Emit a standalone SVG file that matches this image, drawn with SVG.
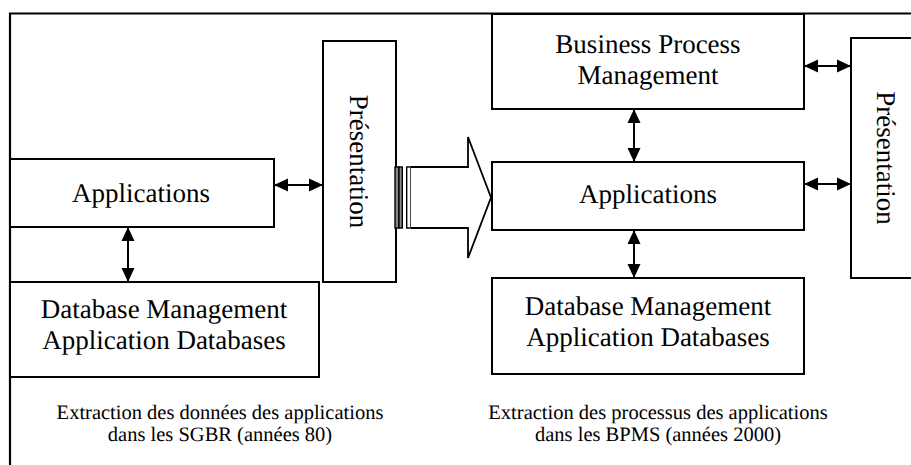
<svg xmlns="http://www.w3.org/2000/svg" width="911" height="465" viewBox="0 0 911 465">
  <defs>
    <marker id="head" viewBox="0 0 14 14" refX="13" refY="7" markerWidth="14" markerHeight="14" markerUnits="userSpaceOnUse" orient="auto-start-reverse">
      <path d="M0,0.5 L14,7 L0,13.5 z" fill="#000"/>
    </marker>
    <style>
      .box { fill: #fff; stroke: #000; stroke-width: 2; }
      .frame { fill: none; stroke: #000; stroke-width: 2.2; }
      .lbl { font-family: "Liberation Serif", "Times New Roman", serif; font-size: 27px; fill: #000; text-anchor: middle; text-rendering: geometricPrecision; }
      .cap { font-family: "Liberation Serif", "Times New Roman", serif; font-size: 20.5px; fill: #000; text-anchor: middle; text-rendering: geometricPrecision; }
      .link { stroke: #000; stroke-width: 2; fill: none; marker-start: url(#head); marker-end: url(#head); }
      .bar { stroke: #000; stroke-width: 1.4; }
    </style>
  </defs>
  <rect width="911" height="465" fill="#fff"/>

  <!-- outer frame: top and left edges -->
  <path class="frame" d="M10,465 V13.5 H911"/>

  <!-- left side: data extraction -->
  <g id="app-left">
    <rect class="box" x="10" y="159" width="264" height="68"/>
    <text class="lbl" x="141" y="202">Applications</text>
  </g>
  <g id="db-left">
    <rect class="box" x="10" y="282" width="309" height="95"/>
    <text class="lbl" x="164" y="318">Database Management</text>
    <text class="lbl" x="164" y="349">Application Databases</text>
  </g>
  <g id="pres-left">
    <rect class="box" x="323" y="41" width="73" height="241"/>
    <text class="lbl" transform="translate(350,161.5) rotate(90)" x="0" y="0">Présentation</text>
  </g>

  <!-- transition arrow with striped tail -->
  <g id="transition">
    <rect class="bar" x="395" y="167" width="4" height="61" fill="#888"/>
    <rect class="bar" x="399" y="167" width="3.3" height="61" fill="#888"/>
    <rect class="bar" x="406.7" y="167" width="4" height="61" fill="#fff"/>
    <path d="M410.7,167 H468 V137 L491,197.5 L468,258 V228 H410.7" fill="#fff" stroke="#000" stroke-width="1.8"/>
  </g>

  <!-- right side: process extraction -->
  <g id="bpm">
    <rect class="box" x="492" y="14" width="312" height="95"/>
    <text class="lbl" x="648" y="53">Business Process</text>
    <text class="lbl" x="648" y="84">Management</text>
  </g>
  <g id="app-right">
    <rect class="box" x="492" y="162" width="312" height="68"/>
    <text class="lbl" x="648" y="203">Applications</text>
  </g>
  <g id="db-right">
    <rect class="box" x="492" y="278" width="312" height="96"/>
    <text class="lbl" x="648" y="315">Database Management</text>
    <text class="lbl" x="648" y="346">Application Databases</text>
  </g>
  <g id="pres-right">
    <rect class="box" x="851" y="38" width="70" height="240"/>
    <text class="lbl" transform="translate(877,158) rotate(90)" x="0" y="0">Présentation</text>
  </g>

  <!-- captions -->
  <text class="cap" x="220" y="419">Extraction des données des applications</text>
  <text class="cap" x="220" y="441">dans les SGBR (années 80)</text>
  <text class="cap" x="658" y="419">Extraction des processus des applications</text>
  <text class="cap" x="658" y="441">dans les BPMS (années 2000)</text>

  <!-- connectors -->
  <g id="connectors">
    <line class="link" x1="128" y1="228" x2="128" y2="281"/>
    <line class="link" x1="275" y1="185" x2="322" y2="185"/>
    <line class="link" x1="634" y1="110" x2="634" y2="161"/>
    <line class="link" x1="634" y1="231" x2="634" y2="277"/>
    <line class="link" x1="805" y1="66" x2="850" y2="66"/>
    <line class="link" x1="805" y1="184" x2="850" y2="184"/>
  </g>
</svg>
